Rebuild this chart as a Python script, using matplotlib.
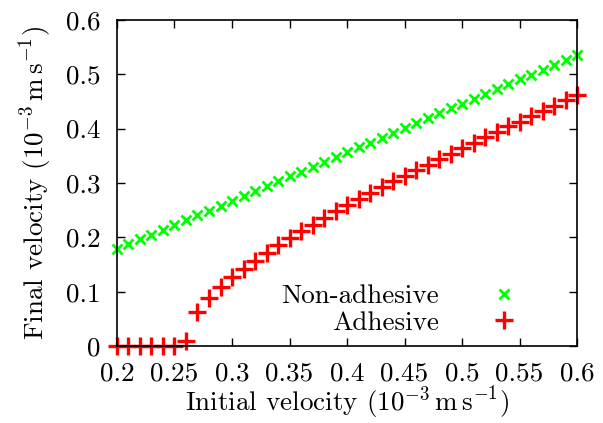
import matplotlib
matplotlib.use("Agg")
import matplotlib.pyplot as plt

# initial velocity (10^-3 m/s)
x_vals = [0.20, 0.21, 0.22, 0.23, 0.24, 0.25, 0.26, 0.27, 0.28, 0.29,
          0.30, 0.31, 0.32, 0.33, 0.34, 0.35, 0.36, 0.37, 0.38, 0.39,
          0.40, 0.41, 0.42, 0.43, 0.44, 0.45, 0.46, 0.47, 0.48, 0.49,
          0.50, 0.51, 0.52, 0.53, 0.54, 0.55, 0.56, 0.57, 0.58, 0.59,
          0.60]

non_adhesive = [0.178, 0.187, 0.196, 0.205, 0.214, 0.223, 0.232, 0.241, 0.249, 0.258,
                0.267, 0.276, 0.285, 0.294, 0.303, 0.312, 0.321, 0.330, 0.339, 0.348,
                0.357, 0.366, 0.374, 0.383, 0.392, 0.401, 0.410, 0.419, 0.428, 0.437,
                0.446, 0.455, 0.464, 0.473, 0.482, 0.491, 0.499, 0.508, 0.517, 0.526,
                0.535]

adhesive = [0.0, 0.0, 0.0, 0.0, 0.0, 0.0, 0.010, 0.062, 0.089, 0.109,
            0.127, 0.142, 0.157, 0.171, 0.185, 0.198, 0.211, 0.223, 0.236, 0.248,
            0.259, 0.270, 0.281, 0.292, 0.303, 0.313, 0.323, 0.333, 0.344, 0.354,
            0.364, 0.374, 0.384, 0.394, 0.404, 0.413, 0.423, 0.433, 0.442, 0.452,
            0.462]

x_ticks = [0.2, 0.25, 0.3, 0.35, 0.4, 0.45, 0.5, 0.55, 0.6]
x_tick_labels = ["0.2", "0.25", "0.3", "0.35", "0.4", "0.45", "0.5", "0.55", "0.6"]
y_ticks = [0, 0.1, 0.2, 0.3, 0.4, 0.5, 0.6]
y_tick_labels = ["0", "0.1", "0.2", "0.3", "0.4", "0.5", "0.6"]

plt.rcParams['font.family'] = ['cmr10', 'DejaVu Serif']
plt.rcParams['mathtext.fontset'] = 'cm'
plt.rcParams['axes.formatter.use_mathtext'] = True
plt.rcParams['font.size'] = 19.5

fig = plt.figure(figsize=(6.03, 4.23), dpi=100)
ax = fig.add_axes([0.194, 0.182, 0.763, 0.771])

ax.plot(x_vals, non_adhesive, linestyle='none', marker='x', color='#00ff00',
        markersize=6.5, markeredgewidth=2, label='Non-adhesive', clip_on=False)
ax.plot(x_vals, adhesive, linestyle='none', marker='+', color='#ff0000',
        markersize=12.5, markeredgewidth=2.4, label='Adhesive', clip_on=False)

ax.set_xlim(0.2, 0.6)
ax.set_ylim(0, 0.6)
ax.set_xticks(x_ticks)
ax.set_xticklabels(x_tick_labels)
ax.set_yticks(y_ticks)
ax.set_yticklabels(y_tick_labels)
ax.tick_params(direction='in', length=6, width=1, top=True, right=True)
ax.tick_params(axis='x', pad=11)
ax.tick_params(axis='y', pad=12)
for s in ax.spines.values():
    s.set_linewidth(1.2)

ax.set_xlabel(r'Initial velocity ($10^{-3}\,\mathrm{m\,s^{-1}}$)', labelpad=0)
ax.set_ylabel(r'Final velocity ($10^{-3}\,\mathrm{m\,s^{-1}}$)', labelpad=8)

ax.legend(loc='lower right', bbox_to_anchor=(0.93, -0.04), frameon=False,
          markerfirst=False, handletextpad=1.8, labelspacing=0.1,
          fontsize=19.5, handlelength=1.2)

fig.savefig('out.png', dpi=100)
